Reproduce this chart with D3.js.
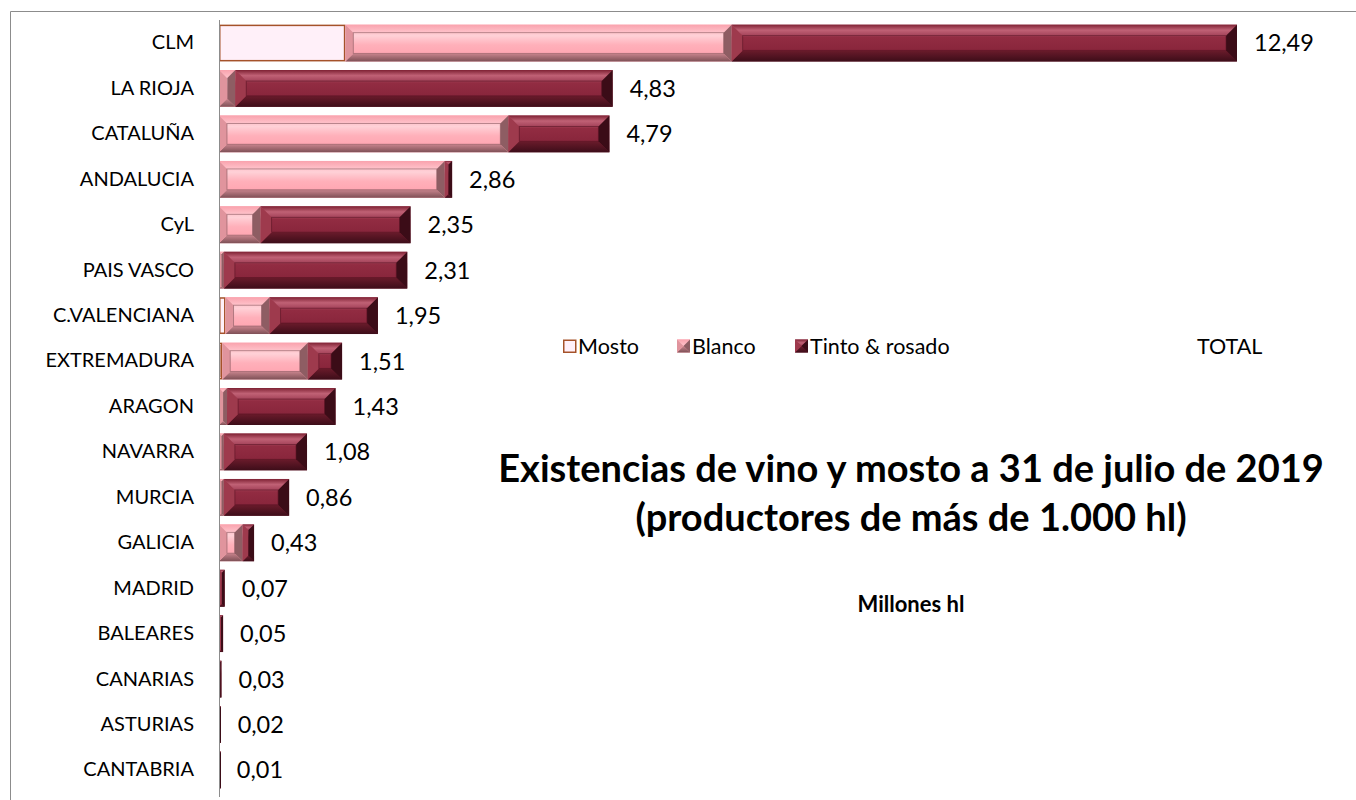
<!DOCTYPE html>
<html>
<head>
<meta charset="utf-8">
<script src="https://cdn.jsdelivr.net/npm/d3@7"></script>
<style>
  body { margin: 0; background: #fff; }
  svg { display: block; font-family: Lato, "Open Sans", sans-serif; }
  .labelText { fill: #000; }
</style>
</head>
<body>
<svg id="chart" width="1356" height="800"></svg>
<script>
// regions, top to bottom
const regions = ['CLM', 'LA RIOJA', 'CATALUÑA', 'ANDALUCIA', 'CyL', 'PAIS VASCO', 'C.VALENCIANA',
  'EXTREMADURA', 'ARAGON', 'NAVARRA', 'MURCIA', 'GALICIA', 'MADRID', 'BALEARES', 'CANARIAS',
  'ASTURIAS', 'CANTABRIA'];
// millones hl
const mosto = [1.55, 0, 0, 0, 0, 0, 0.08, 0.04, 0, 0, 0, 0, 0, 0, 0, 0, 0];
const blanco = [4.74, 0.20, 3.55, 2.77, 0.51, 0.06, 0.54, 1.05, 0.10, 0.06, 0.06, 0.29, 0, 0, 0, 0, 0];
const tinto = [6.20, 4.63, 1.24, 0.09, 1.84, 2.25, 1.33, 0.42, 1.33, 1.02, 0.80, 0.14, 0.07, 0.05, 0.03, 0.02, 0.01];
const totals = [12.49, 4.83, 4.79, 2.86, 2.35, 2.31, 1.95, 1.51, 1.43, 1.08, 0.86, 0.43, 0.07, 0.05, 0.03, 0.02, 0.01];
const seriesNames = ['Mosto', 'Blanco', 'Tinto & rosado', 'TOTAL'];

const svg = d3.select('#chart');

const xscale = d3.scaleLinear()
  .domain([0, 12.49])
  .range([219, 1237]);

const yscale = d3.scaleBand()
  .domain(regions)
  .range([16, 797])
  .paddingInner(0.19)
  .paddingOuter(0.19);

// outer frame (only top and left visible)
svg.append('path')
  .attr('d', 'M10.5,800 V11.5 H1356')
  .attr('fill', 'none')
  .attr('stroke', '#8c8c8c')
  .attr('stroke-width', 1);

// gradients for bevelled faces
const defs = svg.append('defs');
const addGrad = (id, stops) => {
  const g = defs.append('linearGradient')
    .attr('id', id)
    .attr('x1', 0).attr('y1', 0).attr('x2', 0).attr('y2', 1);
  stops.forEach(([o, c]) => g.append('stop').attr('offset', o).attr('stop-color', c));
};
addGrad('tintoFace', [[0, '#a3435a'], [0.2, '#c06175'], [0.35, '#922c42'], [0.8, '#86243a'], [1, '#6e1a2c']]);
addGrad('tintoTop', [[0, '#7f2234'], [0.5, '#c06175'], [1, '#a4435a']]);
addGrad('tintoBottom', [[0, '#6a1b2b'], [1, '#3d0d19']]);
addGrad('blancoFace', [[0, '#ffa8b3'], [0.3, '#ffd1d7'], [0.55, '#ffb0ba'], [1, '#ff9eab']]);
addGrad('blancoTop', [[0, '#f9a2ad'], [1, '#ffc3cb']]);
addGrad('blancoBottom', [[0, '#c8848d'], [1, '#7e5056']]);

const styles = {
  blanco: { face: 'url(#blancoFace)', top: 'url(#blancoTop)', bottom: 'url(#blancoBottom)', left: '#e0949d', right: '#8e5d63', edge: '#8a5a60', bevel: 8 },
  tinto: { face: 'url(#tintoFace)', top: 'url(#tintoTop)', bottom: 'url(#tintoBottom)', left: '#9e3a4d', right: '#3b0c17', edge: '#5a1424', bevel: 11 }
};

// draws one bevelled block
const bevelBox = (g, x, y, w, h, st) => {
  if (w <= 0) return;
  const b = Math.min(st.bevel, w / 2, h / 2);
  g.append('rect').attr('x', x).attr('y', y).attr('width', w).attr('height', h).attr('fill', st.face);
  const pts = (arr) => arr.map((p) => p.join(',')).join(' ');
  g.append('polygon').attr('points', pts([[x, y], [x + w, y], [x + w - b, y + b], [x + b, y + b]])).attr('fill', st.top);
  g.append('polygon').attr('points', pts([[x, y + h], [x + w, y + h], [x + w - b, y + h - b], [x + b, y + h - b]])).attr('fill', st.bottom);
  g.append('polygon').attr('points', pts([[x, y], [x + b, y + b], [x + b, y + h - b], [x, y + h]])).attr('fill', st.left);
  g.append('polygon').attr('points', pts([[x + w, y], [x + w - b, y + b], [x + w - b, y + h - b], [x + w, y + h]])).attr('fill', st.right);
  if (w > 2 * b + 1) {
    g.append('rect')
      .attr('x', x + b).attr('y', y + b)
      .attr('width', w - 2 * b).attr('height', h - 2 * b)
      .attr('fill', 'none')
      .attr('stroke', st.edge)
      .attr('stroke-opacity', 0.6)
      .attr('stroke-width', 1);
  }
};

const barData = regions.map((r, i) => ({ region: r, mosto: mosto[i], blanco: blanco[i], tinto: tinto[i], total: totals[i] }));
const stackedData = d3.stack().keys(['mosto', 'blanco', 'tinto'])(barData);

const bars = svg.append('g');

// mosto: plain light box with brown outline
bars.append('g')
  .selectAll('rect')
  .data(stackedData[0].filter((d) => d[1] - d[0] > 0))
  .enter()
  .append('rect')
  .attr('x', (d) => xscale(d[0]) + 0.75)
  .attr('y', (d) => yscale(d.data.region) + 0.75)
  .attr('width', (d) => xscale(d[1]) - xscale(d[0]) - 1.5)
  .attr('height', yscale.bandwidth() - 1.5)
  .attr('fill', '#fff0f9')
  .attr('stroke', '#a5522a')
  .attr('stroke-width', 1.5);

['blanco', 'tinto'].forEach((key, k) => {
  const g = bars.append('g');
  stackedData[k + 1].forEach((d) => {
    const x0 = xscale(d[0]);
    const x1 = xscale(d[1]);
    bevelBox(g, x0, yscale(d.data.region), Math.max(x1 - x0, d[1] > d[0] ? 2 : 0), yscale.bandwidth(), styles[key]);
  });
});

// category axis
const leftAxis = d3.axisLeft(yscale).tickSize(0).tickPadding(25);
const axisG = svg.append('g')
  .attr('transform', `translate(${xscale(0)}, 0)`)
  .call(leftAxis);
axisG.select('.domain').attr('stroke', '#8c8c8c').attr('d', `M0.5,20V797`);
axisG.selectAll('text')
  .attr('font-size', 20)
  .attr('font-family', 'Lato, sans-serif')
  .attr('fill', '#000');

// TOTAL labels
svg.append('g')
  .selectAll('text')
  .data(barData)
  .enter()
  .append('text')
  .attr('class', 'labelText')
  .attr('x', (d) => xscale(d.total) + 17)
  .attr('y', (d) => yscale(d.region) + yscale.bandwidth() / 2)
  .attr('dy', '0.36em')
  .attr('font-size', 23.5)
  .text((d) => d3.format('.2f')(d.total).replace('.', ','));

// legend
const legendX = [563, 677, 795, 1182];
const legend = svg.append('g').attr('transform', 'translate(0, 346)');
const items = legend.selectAll('g')
  .data(seriesNames)
  .enter()
  .append('g')
  .attr('transform', (d, i) => `translate(${legendX[i]}, 0)`);

items.each(function (d, i) {
  const g = d3.select(this);
  if (i === 0) {
    g.append('rect').attr('x', 0.75).attr('y', -5.75).attr('width', 12).attr('height', 12)
      .attr('fill', '#fff0f9').attr('stroke', '#a5522a').attr('stroke-width', 1.5);
  } else if (i === 1) {
    bevelBox(g, 0, -6.5, 13, 13, styles.blanco);
  } else if (i === 2) {
    bevelBox(g, 0, -6.5, 13, 13, styles.tinto);
  }
  g.append('text')
    .attr('class', 'labelText')
    .attr('x', 15)
    .attr('dy', '0.36em')
    .attr('font-size', 21.5)
    .text(d);
});

// titles
const title = svg.append('g').attr('text-anchor', 'middle');
title.append('text')
  .attr('x', 911).attr('y', 482)
  .attr('font-size', 38).attr('font-weight', 'bold')
  .text('Existencias de vino y mosto a 31 de julio de 2019');
title.append('text')
  .attr('x', 911).attr('y', 531)
  .attr('font-size', 38).attr('font-weight', 'bold')
  .text('(productores de más de 1.000 hl)');
title.append('text')
  .attr('x', 911).attr('y', 612)
  .attr('font-size', 22).attr('font-weight', 'bold')
  .text('Millones hl');
</script>
</body>
</html>
